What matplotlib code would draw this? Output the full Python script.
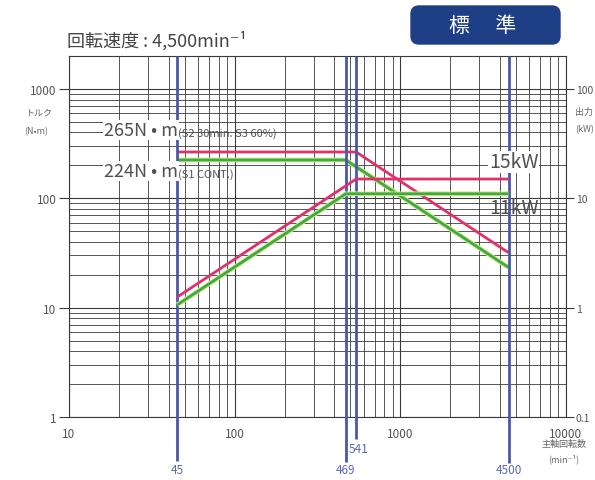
import numpy as np
import matplotlib
matplotlib.use("Agg")
import matplotlib.pyplot as plt
from matplotlib.ticker import LogLocator, NullFormatter, FixedLocator, FixedFormatter
from matplotlib.patches import FancyBboxPatch
from matplotlib.transforms import IdentityTransform, blended_transform_factory
import matplotlib.patheffects as pe

plt.rcParams['font.family'] = ['Noto Sans CJK JP', 'DejaVu Sans']

# ---- data ----
speed_s2 = [45, 541, 4500]
torque_s2 = [265, 265, 31.8]
power_s2 = [1.25, 15, 15]
speed_s1 = [45, 469, 4500]
torque_s1 = [224, 224, 23.3]
power_s1 = [1.06, 11, 11]
marker_speeds = [45, 469, 541, 4500]
x_ticks = [10, 100, 1000, 10000]
x_tick_labels = ["10", "100", "1000", "10000"]
y_ticks = [1, 10, 100, 1000]
y_tick_labels = ["1", "10", "100", "1000"]
p_ticks = [0.1, 1, 10, 100]
p_tick_labels = ["0.1", "1", "10", "100"]

W, H = 595, 481
fig = plt.figure(figsize=(W / 100, H / 100), dpi=100)
ax = fig.add_axes([69 / W, 1 - 418 / H, (566 - 69) / W, (418 - 57) / H])
ax.set_xscale('log')
ax.set_yscale('log')
ax.set_xlim(10, 10000)
ax.set_ylim(1, 2000)

grid_c = '#3a3a3a'
ax.xaxis.set_minor_locator(LogLocator(base=10, subs=np.arange(2, 10)))
ax.yaxis.set_minor_locator(LogLocator(base=10, subs=np.arange(2, 10)))
ax.xaxis.set_minor_formatter(NullFormatter())
ax.yaxis.set_minor_formatter(NullFormatter())
ax.grid(which='major', color=grid_c, lw=0.8)
ax.grid(which='minor', color=grid_c, lw=0.6)
for s in ax.spines.values():
    s.set_color(grid_c)
    s.set_linewidth(0.8)

ax.xaxis.set_major_locator(FixedLocator(x_ticks))
ax.xaxis.set_major_formatter(FixedFormatter(x_tick_labels))
ax.yaxis.set_major_locator(FixedLocator(y_ticks))
ax.yaxis.set_major_formatter(FixedFormatter(y_tick_labels))
ax.tick_params(axis='x', which='both', length=0, pad=7, labelsize=8.5, labelcolor='#555555')
ax.tick_params(axis='y', which='major', length=7, width=0.8, color=grid_c, pad=2,
               labelsize=8.5, labelcolor='#555555')
ax.tick_params(axis='y', which='minor', length=0)

ax2 = ax.twinx()
ax2.set_yscale('log')
ax2.set_ylim(0.1, 200)
ax2.yaxis.set_major_locator(FixedLocator(p_ticks))
ax2.yaxis.set_major_formatter(FixedFormatter(p_tick_labels))
ax2.yaxis.set_minor_locator(FixedLocator([]))
ax2.tick_params(axis='y', which='major', length=6, width=0.8, color=grid_c, pad=1,
                labelsize=7.5, labelcolor='#555555')
for s in ax2.spines.values():
    s.set_visible(False)

red = '#e2306a'
green = '#3caa48'
halo = [pe.Stroke(linewidth=3.4, foreground='#d8e87a'), pe.Normal()]

ax.plot(speed_s2, torque_s2, color=red, lw=2.0, zorder=5, solid_capstyle='butt')
ax.plot(speed_s1, torque_s1, color=green, lw=2.0, zorder=4, path_effects=halo, solid_capstyle='butt')
ax2.plot(speed_s2, power_s2, color=red, lw=2.0, zorder=5, solid_capstyle='butt')
ax2.plot(speed_s1, power_s1, color=green, lw=2.0, zorder=4, path_effects=halo, solid_capstyle='butt')

blue = '#4a58a8'
bt = blended_transform_factory(ax.transData, ax.transAxes)
ends = {45: -0.122, 469: -0.125, 541: -0.062, 4500: -0.128}
label_y = {45: -0.145, 469: -0.145, 541: -0.087, 4500: -0.145}
label_dx = {45: 1.0, 469: 1.0, 541: 1.03, 4500: 1.0}
for sp in marker_speeds:
    ax.plot([sp, sp], [1.0, ends[sp]], transform=bt, color=blue, lw=2.0,
            clip_on=False, zorder=6, solid_capstyle='butt')
    ax.text(sp * label_dx[sp], label_y[sp], str(sp), transform=bt, color='#5a68b0',
            fontsize=8.5, ha='center', va='center')

# annotations
gray = '#505050'
def px(x, y):
    return x / W, 1 - y / H

wb = dict(boxstyle='square,pad=0.05', facecolor='white', edgecolor='none')
fig.text(*px(104, 131), "265N • m", fontsize=13, color=gray, va='center', ha='left', bbox=wb)
fig.text(*px(178, 134), "(S2 30min. S3 60%)", fontsize=8, color=gray, va='center', ha='left')
fig.text(*px(104, 172), "224N • m", fontsize=13, color=gray, va='center', ha='left', bbox=wb)
fig.text(*px(178, 175), "(S1 CONT.)", fontsize=8, color=gray, va='center', ha='left')
fig.text(*px(489, 163), "15kW", fontsize=14, color=gray, va='center', ha='left', bbox=wb)
fig.text(*px(489, 208), "11kW", fontsize=14, color=gray, va='center', ha='left')

fig.text(*px(67, 41), "回転速度 : 4,500min⁻¹", fontsize=13, color='#444444', va='center', ha='left')

fig.text(*px(25, 113), "トルク", fontsize=6.5, color='#666666', va='center', ha='left')
fig.text(*px(24, 132), "(N•m)", fontsize=6.5, color='#666666', va='center', ha='left')
fig.text(*px(575, 112), "出力", fontsize=6.5, color='#666666', va='center', ha='left')
fig.text(*px(575, 130), "(kW)", fontsize=6.5, color='#666666', va='center', ha='left')

fig.text(*px(564, 444), "主軸回転数", fontsize=6.5, color='#666666', va='center', ha='center')
fig.text(*px(564, 459), "(min⁻¹)", fontsize=6.5, color='#666666', va='center', ha='center')

box = FancyBboxPatch((411, H - 45), 149, 38, boxstyle="round,pad=0,rounding_size=8",
                     transform=IdentityTransform(), facecolor='#1e3f86', edgecolor='#1e3f86')
fig.add_artist(box)
fig.text(*px(483, 26), "標　 準", fontsize=15, color='white', va='center', ha='center')

fig.savefig("out.png", dpi=100)
